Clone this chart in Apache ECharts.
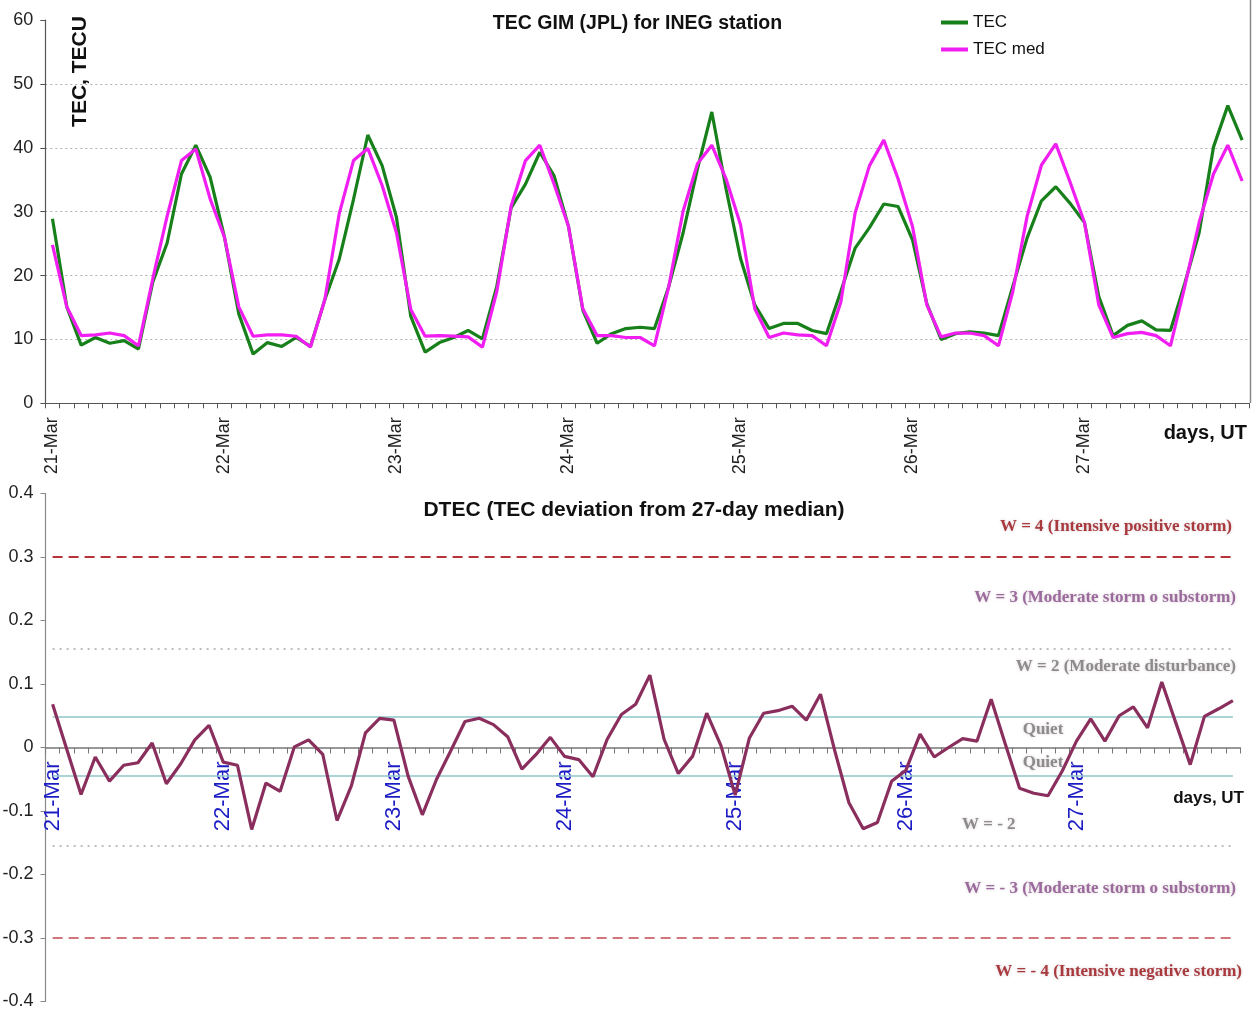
<!DOCTYPE html>
<html>
<head>
<meta charset="utf-8">
<script src="https://cdn.jsdelivr.net/npm/echarts@6/dist/echarts.min.js"></script>
<style>
  html, body { margin: 0; padding: 0; background: #ffffff; }
  #chart { width: 1259px; height: 1010px; }
</style>
</head>
<body>
<div id="chart"></div>
<script>
// Time axis: 7 days sampled every 2 hours (UT)
const days = ['21-Mar', '22-Mar', '23-Mar', '24-Mar', '25-Mar', '26-Mar', '27-Mar'];
const hours = ['00', '02', '04', '06', '08', '10', '12', '14', '16', '18', '20', '22'];

// Vertical TEC from JPL GIM, TECU
const tec = [
  28.9, 15.1, 9.1, 10.3, 9.4, 9.8, 8.5, 19.0, 25.1, 35.9, 40.4, 35.4,
  26.0, 14.0, 7.7, 9.5, 8.9, 10.3, 8.9, 16.2, 22.5, 31.9, 42.0, 37.2,
  29.1, 13.6, 8.0, 9.5, 10.3, 11.4, 10.1, 18.3, 30.6, 34.3, 39.3, 35.6,
  27.7, 14.6, 9.4, 10.9, 11.7, 11.9, 11.7, 18.3, 26.7, 36.7, 45.6, 33.5,
  22.7, 15.4, 11.7, 12.5, 12.5, 11.4, 10.9, 17.5, 24.3, 27.5, 31.2, 30.8,
  25.6, 15.6, 10.0, 10.9, 11.2, 11.0, 10.6, 18.3, 25.9, 31.7, 33.9, 31.3,
  28.3, 16.7, 10.6, 12.2, 12.9, 11.5, 11.4, 18.8, 26.7, 40.1, 46.6, 41.2
];

// 27-day running median of TEC, TECU
const tecMed = [
  24.8, 15.1, 10.6, 10.7, 11.0, 10.6, 9.0, 19.5, 29.3, 38.0, 39.8, 32.0,
  26.0, 15.1, 10.5, 10.7, 10.7, 10.5, 8.8, 16.2, 29.6, 38.0, 39.9, 34.1,
  26.7, 14.7, 10.5, 10.6, 10.5, 10.4, 8.8, 17.5, 30.9, 38.0, 40.4, 34.3,
  27.7, 14.8, 10.6, 10.6, 10.3, 10.3, 9.0, 18.3, 30.1, 37.5, 40.4, 35.1,
  28.0, 14.8, 10.3, 11.0, 10.7, 10.6, 9.0, 15.8, 29.8, 37.2, 41.2, 35.1,
  27.7, 15.4, 10.4, 11.0, 11.0, 10.6, 9.0, 17.5, 29.3, 37.3, 40.6, 34.6,
  28.3, 15.4, 10.3, 10.9, 11.1, 10.6, 9.0, 18.3, 28.3, 35.9, 40.4, 34.8
];

// Relative deviation of TEC from the median
const dtec = [
  0.068, -0.003, -0.074, -0.015, -0.053, -0.028, -0.024, 0.007, -0.057, -0.026, 0.012, 0.035,
  -0.023, -0.028, -0.129, -0.056, -0.069, 0.001, 0.012, -0.011, -0.115, -0.061, 0.023, 0.046,
  0.043, -0.045, -0.106, -0.050, -0.005, 0.041, 0.046, 0.036, 0.017, -0.034, -0.011, 0.016,
  -0.014, -0.019, -0.046, 0.013, 0.052, 0.068, 0.114, 0.013, -0.041, -0.014, 0.054, 0.003,
  -0.075, 0.015, 0.054, 0.058, 0.065, 0.043, 0.084, -0.005, -0.087, -0.128, -0.118, -0.053,
  -0.036, 0.021, -0.015, 0.000, 0.014, 0.010, 0.076, 0.005, -0.064, -0.072, -0.076, -0.037,
  0.010, 0.045, 0.010, 0.050, 0.064, 0.031, 0.103, 0.038, -0.027, 0.049, 0.061, 0.074
];

// Storm-level thresholds of DTEC
const stormLevel = 0.3;     // |W| = 4
const disturbLevel = 0.155; // |W| = 2 / 3 border
const quietUpper = 0.048;
const quietLower = -0.044;

const categories = [];
days.forEach(d => hours.forEach(h => categories.push(d + ' ' + h)));
const firstCat = categories[0];
const lastCat = categories[categories.length - 1];

const SANS = '"Liberation Sans", Arial, sans-serif';
const SERIF = '"Liberation Serif", "Times New Roman", serif';

// DTEC panel geometry: the time axis sits on the zero line
const dGridTop = 493.5;
const dGridHeight = 508;
const zeroOffset = -dGridHeight / 2;

function hLine(y, style) {
  return [{ coord: [firstCat, y], lineStyle: style }, { coord: [lastCat, y] }];
}

function zoneText(text, x, y, color, align) {
  return {
    type: 'text', z: 50,
    style: {
      text: text, x: x, y: y,
      font: 'bold 17px ' + SERIF,
      fill: color,
      align: align, textAlign: align,
      verticalAlign: 'middle', textVerticalAlign: 'middle',
      textShadowColor: 'rgba(150,110,130,0.35)', textShadowBlur: 3
    }
  };
}

const chart = echarts.init(document.getElementById('chart'), null, { renderer: 'canvas' });

const option = {
  animation: false,
  backgroundColor: '#ffffff',
  textStyle: { fontFamily: SANS },
  legend: {
    data: ['TEC', 'TEC med'],
    orient: 'vertical',
    left: 936, top: 9,
    icon: 'rect',
    itemWidth: 27, itemHeight: 4, itemGap: 10,
    textStyle: { fontSize: 17, color: '#111', fontFamily: SANS }
  },
  grid: [
    { left: 45.3, top: 20, width: 1204, height: 383.3, outerBoundsMode: 'none', containLabel: false },
    { left: 45.5, top: dGridTop, width: 1194.5, height: dGridHeight, outerBoundsMode: 'none', containLabel: false }
  ],
  xAxis: [
    {
      type: 'category', gridIndex: 0, data: categories, boundaryGap: true,
      axisLine: { lineStyle: { color: '#555', width: 1.2 } },
      axisTick: { show: true, interval: 0, length: 5, lineStyle: { color: '#555' } },
      axisLabel: {
        interval: 11, rotate: 90, margin: 14, fontSize: 18, color: '#222',
        formatter: v => v.split(' ')[0]
      },
      splitLine: { show: false }
    },
    {
      type: 'category', gridIndex: 1, data: categories, boundaryGap: true,
      position: 'bottom', offset: zeroOffset,
      axisLine: { onZero: false, lineStyle: { color: '#777', width: 1.5 } },
      axisTick: { show: true, interval: 0, length: 6, lineStyle: { color: '#777' } },
      axisLabel: {
        interval: 11, rotate: 90, margin: 14, fontSize: 22, color: '#1c1cc4',
        formatter: v => v.split(' ')[0]
      },
      splitLine: { show: false }
    }
  ],
  yAxis: [
    {
      type: 'value', gridIndex: 0, min: 0, max: 60, interval: 10,
      axisLine: { show: true, lineStyle: { color: '#555', width: 1.2 } },
      axisTick: { show: true, length: 5, lineStyle: { color: '#555' } },
      axisLabel: { fontSize: 18, color: '#222', margin: 12 },
      splitLine: {
        show: true, showMinLine: false, showMaxLine: false,
        lineStyle: { color: '#b0b0b0', type: [2, 3], width: 1.2 }
      }
    },
    {
      type: 'value', gridIndex: 1, min: -0.4, max: 0.4, interval: 0.1,
      axisLine: { show: true, onZero: false, lineStyle: { color: '#888', width: 1.2 } },
      axisTick: { show: true, length: 5, lineStyle: { color: '#888' } },
      axisLabel: {
        fontSize: 18, color: '#222', margin: 12,
        formatter: v => String(parseFloat(v.toFixed(1)))
      },
      splitLine: { show: false }
    }
  ],
  series: [
    {
      name: 'TEC', type: 'line', xAxisIndex: 0, yAxisIndex: 0,
      data: tec, symbol: 'none', color: '#17801a',
      lineStyle: { width: 3.2, color: '#17801a' }, z: 3
    },
    {
      name: 'TEC med', type: 'line', xAxisIndex: 0, yAxisIndex: 0,
      data: tecMed, symbol: 'none', color: '#f01ef0',
      lineStyle: { width: 3.2, color: '#f01ef0' }, z: 4
    },
    {
      name: 'levels', type: 'line', xAxisIndex: 1, yAxisIndex: 1,
      data: [], z: 2,
      markLine: {
        silent: true, symbol: 'none',
        label: { show: false },
        data: [
          hLine(stormLevel, { color: '#b8343c', type: [10, 6], width: 2 }),
          hLine(-stormLevel, { color: '#c24a50', type: [10, 6], width: 1.5 }),
          hLine(disturbLevel, { color: '#a8a8a8', type: [2, 5], width: 1.5 }),
          hLine(-disturbLevel, { color: '#a8a8a8', type: [2, 5], width: 1.5 }),
          hLine(quietUpper, { color: '#8ec6c8', type: 'solid', width: 1.5 }),
          hLine(quietLower, { color: '#8ec6c8', type: 'solid', width: 1.5 })
        ]
      }
    },
    {
      name: 'DTEC', type: 'line', xAxisIndex: 1, yAxisIndex: 1,
      data: dtec, symbol: 'none', color: '#8a2f5d',
      lineStyle: { width: 3.2, color: '#8a2f5d' }, z: 5
    }
  ],
  graphic: [
    // Frame edge on the right of the TEC panel
    {
      type: 'line', z: 1,
      shape: { x1: 1250.5, y1: 0, x2: 1250.5, y2: 403 },
      style: { stroke: '#8a8a8a', lineWidth: 1.5 }
    },
    {
      type: 'text', z: 50,
      style: {
        text: 'TEC GIM (JPL) for INEG station', x: 637.5, y: 24,
        font: 'bold 19.5px ' + SANS, fill: '#111',
        align: 'center', textAlign: 'center', verticalAlign: 'middle', textVerticalAlign: 'middle'
      }
    },
    {
      type: 'text', z: 50, x: 80.5, y: 71.5, rotation: Math.PI / 2,
      style: {
        text: 'TEC, TECU', x: 0, y: 0,
        font: 'bold 21px ' + SANS, fill: '#111',
        align: 'center', textAlign: 'center', verticalAlign: 'middle', textVerticalAlign: 'middle'
      }
    },
    {
      type: 'text', z: 50,
      style: {
        text: 'days, UT', x: 1247, y: 433,
        font: 'bold 20px ' + SANS, fill: '#111',
        align: 'right', textAlign: 'right', verticalAlign: 'middle', textVerticalAlign: 'middle'
      }
    },
    {
      type: 'text', z: 50,
      style: {
        text: 'DTEC (TEC deviation from 27-day median)', x: 634, y: 510,
        font: 'bold 21px ' + SANS, fill: '#111',
        align: 'center', textAlign: 'center', verticalAlign: 'middle', textVerticalAlign: 'middle'
      }
    },
    {
      type: 'text', z: 50,
      style: {
        text: 'days, UT', x: 1244, y: 798.5,
        font: 'bold 17px ' + SANS, fill: '#111',
        align: 'right', textAlign: 'right', verticalAlign: 'middle', textVerticalAlign: 'middle'
      }
    },
    zoneText('W = 4 (Intensive positive storm)', 1232, 526.5, '#a83a3e', 'right'),
    zoneText('W = 3 (Moderate storm o substorm)', 1236, 598, '#9a6b9c', 'right'),
    zoneText('W = 2 (Moderate disturbance)', 1236, 666.5, '#8c8c8c', 'right'),
    zoneText('Quiet', 1043, 730, '#8c8c8c', 'center'),
    zoneText('Quiet', 1043, 763, '#8c8c8c', 'center'),
    zoneText('W = - 2', 962, 825, '#8c8c8c', 'left'),
    zoneText('W = - 3 (Moderate storm o substorm)', 1236, 889, '#9a6b9c', 'right'),
    zoneText('W = - 4 (Intensive negative storm)', 1242, 972, '#a83a3e', 'right')
  ]
};

chart.setOption(option);
</script>
</body>
</html>
